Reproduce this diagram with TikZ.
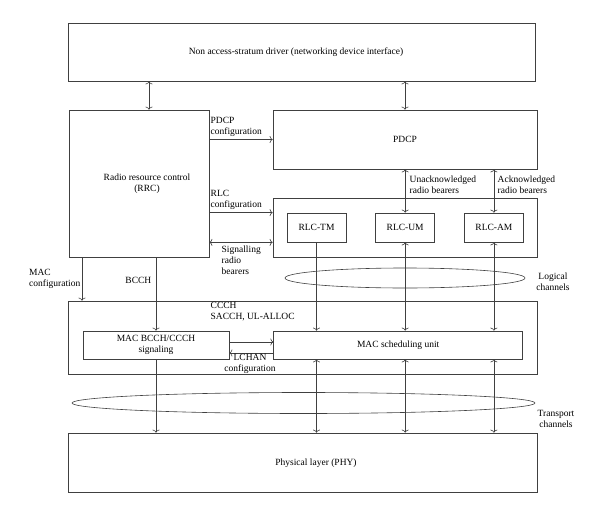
\documentclass[tikz,border=0pt]{standalone}
\usepackage{fontspec}
\setmainfont{Liberation Serif}
\usetikzlibrary{positioning,arrows.meta}

\begin{document}
\begin{tikzpicture}[x=1pt, y=-1pt, >={To[length=3pt,width=7pt]},
  block/.style={draw=black!75, line width=0.7pt, inner sep=0pt, align=center,
    font=\fontsize{9.5}{11}\selectfont},
  rlcbox/.style={block, minimum width=59pt, minimum height=29pt},
  lbl/.style={inner sep=0.5pt, align=left, font=\fontsize{9.5}{11}\selectfont},
  link/.style={draw=black!75, line width=0.6pt},
  chan/.style={draw=black!75, line width=0.6pt}]
  \useasboundingbox (0,0) rectangle (600,514);

  %Define nodes
  \node[block, minimum width=467pt, minimum height=58pt] (nas) at (301.5,52) {};
  \node[lbl, align=center] (nastext) at (296,52)
    {Non access-stratum driver (networking device interface)};
  \node[block, minimum width=140pt, minimum height=147pt] (rrc) at (139,183.5) {};
  \node[lbl, align=center] (rrctext) at (147,184) {Radio resource control\\(RRC)};
  \node[block, minimum width=264pt, minimum height=59pt] (pdcp) at (405,139.5) {PDCP};
  \node[block, minimum width=264pt, minimum height=59pt] (rlc) at (405,227.5) {};
  \node[rlcbox] (tm) at (316.5,227.5) {RLC-TM};
  \node[rlcbox, right=29pt of tm] (um) {RLC-UM};
  \node[rlcbox, right=29pt of um] (am) {RLC-AM};
  \node[block, minimum width=469pt, minimum height=73pt] (mac) at (302.5,337.5) {};
  \node[block, minimum width=146pt, minimum height=28pt] (bcch) at (156,345)
    {MAC BCCH/CCCH\\signaling};
  \node[block, minimum width=249pt, minimum height=28pt, right=44pt of bcch] (sched)
    {MAC scheduling unit};
  \node[block, minimum width=469pt, minimum height=59pt] (phy) at (302.5,462.5) {};
  \node[lbl, align=center] (phytext) at (316,463) {Physical layer (PHY)};

  % Channel groups
  \draw[chan] (405,278) ellipse [x radius=120pt, y radius=10pt];
  \draw[chan] (303.5,403) ellipse [x radius=231.5pt, y radius=10.5pt];
  \node[lbl, align=center] (logch) at (553,282) {Logical\\channels};
  \node[lbl, align=center] (trch) at (556,419) {Transport\\channels};

  % Connect the nodes
  \coordinate (rrcx) at (149,0);
  \draw[link, <->] (nas.south -| rrcx) -- (rrc.north -| rrcx);
  \draw[link, <->] (nas.south -| pdcp.north) -- (pdcp.north);
  \draw[link, ->] (rrc.east |- pdcp.west) -- (pdcp.west);
  \draw[link, ->] (rrc.east |- tm.north) -- (rlc.west |- tm.north);
  \draw[link, <->] (rrc.east |- tm.south) -- (rlc.west |- tm.south);
  \draw[link, <->] (pdcp.south -| um.north) -- (um.north);
  \draw[link, <->] (pdcp.south -| am.north) -- (am.north);

  \coordinate (macx) at (82,0);
  \draw[link, ->] (rrc.south -| macx) -- (mac.north -| macx);
  \draw[link, ->] (rrc.south -| bcch.north) -- (bcch.north);
  \draw[link, ->] (tm.south) -- (sched.north -| tm.south);
  \draw[link, <->] (um.south) -- (sched.north -| um.south);
  \draw[link, <->] (am.south) -- (sched.north -| am.south);
  \draw[link, ->] ([yshift=-8pt]sched.west) -- ([yshift=-8pt]bcch.east);
  \draw[link, ->] ([yshift=3pt]bcch.east) -- ([yshift=3pt]sched.west);

  \draw[link, ->] (bcch.south) -- (phy.north -| bcch.south);
  \draw[link, <->] (sched.south -| tm.south) -- (phy.north -| tm.south);
  \draw[link, <->] (sched.south -| um.south) -- (phy.north -| um.south);
  \draw[link, <->] (sched.south -| am.south) -- (phy.north -| am.south);

  % Labels
  \node[lbl, anchor=south west] (pdcpcfg) at (210,137) {PDCP\\configuration};
  \node[lbl, anchor=south west] (rlccfg) at (210,210) {RLC\\configuration};
  \node[lbl, anchor=north west] (srb) at (221,245) {Signalling\\radio\\bearers};
  \node[lbl, anchor=west] (ubear) at (409,185) {Unacknowledged\\radio bearers};
  \node[lbl, anchor=west] (abear) at (497,185) {Acknowledged\\radio bearers};
  \node[lbl, anchor=east] (maccfg) at (81,279) {MAC\\configuration};
  \node[lbl, anchor=east] (bcchlbl) at (152,280) {BCCH};
  \node[lbl, anchor=north west] (ccch) at (210,302) {CCCH\\SACCH, UL-ALLOC};
  \node[lbl, align=center, anchor=north] (lchan) at (250,354) {LCHAN\\configuration};
\end{tikzpicture}
\end{document}
